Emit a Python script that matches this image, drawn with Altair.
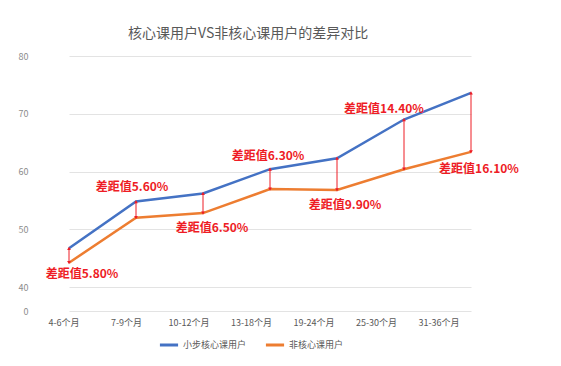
import altair as alt
import pandas as pd

categories = ["4-6个月", "7-9个月", "10-12个月", "13-18个月", "19-24个月", "25-30个月", "31-36个月"]
core = [46.7, 54.8, 56.2, 60.4, 62.3, 69.0, 73.6]
noncore = [44.2, 52.0, 52.8, 56.95, 56.8, 60.4, 63.4]
gap_labels = ["差距值5.80%", "差距值5.60%", "差距值6.50%", "差距值6.30%",
              "差距值9.90%", "差距值14.40%", "差距值16.10%"]
series_names = ["小步核心课用户", "非核心课用户"]
y_ticks = [0, 40, 50, 60, 70, 80]
title_text = "核心课用户VS非核心课用户的差异对比"

# label placement: (anchor series, dx, dy)
label_place = [("noncore", 13, 11), ("core", -4, -15), ("noncore", 9, 15), ("core", -2, -13),
               ("noncore", 8, 15), ("core", -20, -11), ("noncore", 8, 17)]

FONT = "Noto Sans CJK SC"
BLUE = "#4472C4"
ORANGE = "#ED7D31"
RED = "#EE1C25"
GRAY = "#595959"

idx = list(range(len(categories)))
wide = pd.DataFrame({"cat": categories, "core": core, "noncore": noncore, "label": gap_labels})
long = pd.DataFrame({
    "cat": categories * 2,
    "idx": idx * 2,
    "value": core + noncore,
    "series": [series_names[0]] * len(categories) + [series_names[1]] * len(categories),
})

W, H = 437, 255
x_scale = alt.Scale(type="point", domain=categories, range=[35, 437], padding=0)
y_scale = alt.Scale(domain=[0, 40, 80], range=[H, 231, 0])
y_axis = alt.Axis(values=y_ticks, title=None, grid=True, gridColor="#E3E3E3", domain=False,
                  ticks=False, labelColor="#8C8C8C", labelFontSize=9, labelFont=FONT, labelPadding=6)


def X():
    return alt.X("cat:N", scale=x_scale, sort=categories, axis=None)


def Y(field):
    return alt.Y(f"{field}:Q", scale=y_scale, axis=y_axis)


lines = alt.Chart(long).mark_line(strokeWidth=2.5).encode(
    x=X(),
    y=Y("value"),
    color=alt.Color("series:N", scale=alt.Scale(domain=series_names, range=[BLUE, ORANGE]),
                    sort=series_names,
                    legend=alt.Legend(orient="none", legendX=124, legendY=278, direction="horizontal",
                                      title=None, symbolType="stroke", symbolStrokeWidth=3,
                                      symbolSize=330, labelFontSize=9, labelColor=GRAY,
                                      labelFont=FONT, columnPadding=12, labelOffset=3)),
    order=alt.Order("idx:Q"),
)

rules = alt.Chart(wide).mark_rule(color=RED, strokeWidth=1).encode(
    x=X(), y=Y("core"), y2="noncore:Q"
)
tips_up = alt.Chart(wide).mark_point(shape="triangle-up", filled=True, color=RED, size=14, opacity=1).encode(
    x=X(), y=Y("core")
)
tips_down = alt.Chart(wide).mark_point(shape="triangle-down", filled=True, color=RED, size=14, opacity=1).encode(
    x=X(), y=Y("noncore")
)

texts = []
for cat, (side, dx, dy) in zip(categories, label_place):
    t = alt.Chart(wide).transform_filter(alt.datum.cat == cat).mark_text(
        dx=dx, dy=dy, color=RED, fontSize=12, fontWeight="bold", font=FONT, baseline="middle"
    ).encode(x=X(), y=Y(side), text="label:N")
    texts.append(t)

xlabels = alt.Chart(pd.DataFrame({"cat": categories})).mark_text(
    fontSize=9, color=GRAY, font=FONT, baseline="middle"
).encode(
    x=alt.X("cat:N", scale=alt.Scale(type="point", domain=categories, range=[30, 405], padding=0),
            sort=categories, axis=None),
    y=alt.value(267),
    text="cat:N",
)

chart = alt.layer(lines, rules, tips_up, tips_down, *texts, xlabels).resolve_scale(
    x="independent"
).properties(
    width=W,
    height=H,
    view=alt.ViewBackground(stroke="transparent", strokeWidth=0),
    title=alt.TitleParams(title_text, fontSize=14, font=FONT, color=GRAY, fontWeight="normal",
                          anchor="start", dx=110, dy=-7),
    autosize=alt.AutoSizeParams(type="none"),
    padding={"left": 34, "top": 56, "right": 90, "bottom": 55},
).configure_view(stroke="transparent", strokeWidth=0).configure_axis(
    domain=False, ticks=False
).configure(background="white")

chart.save("out.html", embed_options={"renderer": "svg", "actions": False})
